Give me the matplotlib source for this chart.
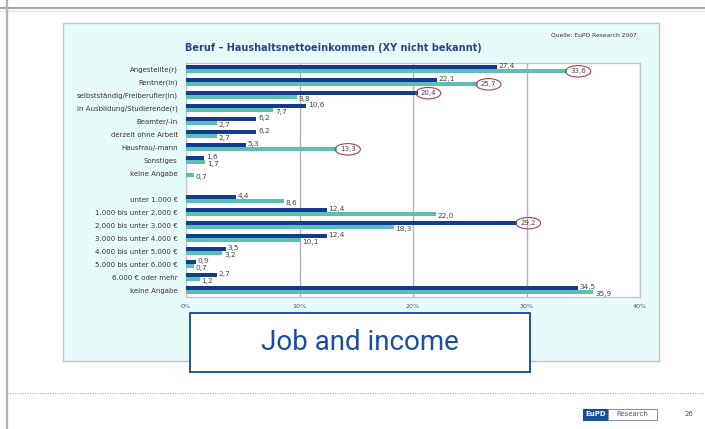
"""Beruf / Haushaltsnettoeinkommen slide - horizontal paired bar chart."""

import matplotlib

matplotlib.use("Agg")
import matplotlib.pyplot as plt
import numpy as np
from matplotlib.patches import Rectangle

CATEGORIES = [
    "Angestellte(r)",
    "Rentner(in)",
    "selbstständig/Freiberufler(in)",
    "in Ausbildung/Studierende(r)",
    "Beamter/-in",
    "derzeit ohne Arbeit",
    "Hausfrau/-mann",
    "Sonstiges",
    "keine Angabe",
    "",
    "unter 1.000 €",
    "1.000 bis unter 2.000 €",
    "2.000 bis unter 3.000 €",
    "3.000 bis unter 4.000 €",
    "4.000 bis unter 5.000 €",
    "5.000 bis unter 6.000 €",
    "6.000 € oder mehr",
    "keine Angabe",
]
# dark blue series (upper bar) and teal series (lower bar); None = no bar
DARK = [27.4, 22.1, 20.4, 10.6, 6.2, 6.2, 5.3, 1.6, None,
        None, 4.4, 12.4, 29.2, 12.4, 3.5, 0.9, 2.7, 34.5]
TEAL = [33.6, 25.7, 9.8, 7.7, 2.7, 2.7, 13.3, 1.7, 0.7,
        None, 8.6, 22.0, 18.3, 10.1, 3.2, 0.7, 1.2, 35.9]
# values highlighted with a red ellipse: (row, series)
CIRCLED = [(0, "teal"), (1, "teal"), (2, "dark"), (6, "teal"), (12, "dark")]
XTICKS = [0, 10, 20, 30, 40]

DARK_C = "#123c8e"
TEAL_C = "#5bbfb3"
W, H = 705, 429


def fmt(v):
    return f"{v:.1f}".replace(".", ",")


def main():
    fig = plt.figure(figsize=(W / 100, H / 100), dpi=100)
    fig.patch.set_facecolor("white")

    # slide background in pixel coordinates
    bg = fig.add_axes([0, 0, 1, 1], zorder=0)
    bg.set_xlim(0, W)
    bg.set_ylim(H, 0)
    bg.axis("off")
    bg.plot([0, W], [7.5, 7.5], color="#a4abb2", lw=1.6)
    bg.plot([0, W], [10.5, 10.5], color="#dfe8ee", lw=1.0)
    bg.plot([6.5, 6.5], [0, H], color="#b4b4b4", lw=1.6)
    bg.add_patch(Rectangle((63, 23), 596, 338, fc="#e8fbfb", ec="#c0c4c4", lw=1.0))
    bg.text(637, 35, "Quelle: EuPD Research 2007", fontsize=4.3, color="#333333",
            ha="right", va="center")
    bg.text(333, 48, "Beruf – Haushaltsnettoeinkommen (XY nicht bekannt)",
            fontsize=7.0, color="#26458a", ha="center", va="center",
            fontweight="semibold")
    bg.plot([7, W], [393, 393], color="#a9bfd6", lw=0.9, ls=(0, (1, 1)))

    # chart
    ax = fig.add_axes([186 / W, 1 - 297 / H, 454 / W, 234 / H], zorder=1)
    ax.set_facecolor("white")
    y = np.arange(len(CATEGORIES))
    bh = 0.32
    dark = [np.nan if v is None else v for v in DARK]
    teal = [np.nan if v is None else v for v in TEAL]
    ax.barh(y - bh / 2, dark, height=bh, color=DARK_C, zorder=3)
    ax.barh(y + bh / 2, teal, height=bh, color=TEAL_C, zorder=3)

    circled = set(CIRCLED)
    for i, (d, t) in enumerate(zip(DARK, TEAL)):
        for v, key, yy in ((d, "dark", i - 0.28), (t, "teal", i + 0.3)):
            if v is None:
                continue
            if (i, key) in circled:
                ax.text(v + 0.95, i - 0.16 if key == "dark" else i + 0.16, fmt(v),
                        fontsize=5.0, color="#444444", ha="center", va="center",
                        zorder=5,
                        bbox=dict(boxstyle="ellipse,pad=0.15", fc="none",
                                  ec="#a8405a", lw=0.8))
            else:
                ax.text(v + 0.15, yy, fmt(v), fontsize=5.3, color="#444444",
                        ha="left", va="center", zorder=5)

    ax.set_xlim(0, 40)
    ax.set_ylim(len(CATEGORIES) - 0.48, -0.48)
    ax.set_yticks(y)
    ax.set_yticklabels(CATEGORIES, fontsize=5.0, color="#333333")
    ax.set_xticks(XTICKS)
    ax.set_xticklabels([f"{v}%" for v in XTICKS], fontsize=4.6, color="#555555")
    ax.tick_params(length=0, pad=5)
    ax.tick_params(axis="y", pad=6)
    ax.grid(axis="x", color="#b4b4b4", lw=1.0, zorder=1)
    for s in ax.spines.values():
        s.set_color("#c4c4c4")
        s.set_linewidth(0.9)

    # overlay: caption box and footer
    ov = fig.add_axes([0, 0, 1, 1], zorder=2)
    ov.set_xlim(0, W)
    ov.set_ylim(H, 0)
    ov.axis("off")
    ov.patch.set_alpha(0)
    ov.add_patch(Rectangle((190, 313), 340, 59, fc="white", ec="#1d55a8", lw=1.4))
    ov.text(360, 343, "Job and income", fontsize=20, color="#1a4fa0",
            family="Roboto", ha="center", va="center")
    ov.add_patch(Rectangle((583, 409), 25, 11, fc="#1b4d9c", ec="#1b4d9c", lw=0.8))
    ov.add_patch(Rectangle((608, 409), 49, 11, fc="white", ec="#8a96a6", lw=0.8))
    ov.text(595.5, 414.5, "EuPD", fontsize=5, color="white", fontweight="bold",
            ha="center", va="center")
    ov.text(632.5, 414.5, "Research", fontsize=5, color="#3b5b9a",
            ha="center", va="center")
    ov.text(689, 414.5, "26", fontsize=5, color="#555555", ha="center", va="center")

    fig.savefig("out.png", dpi=100)


if __name__ == "__main__":
    main()
